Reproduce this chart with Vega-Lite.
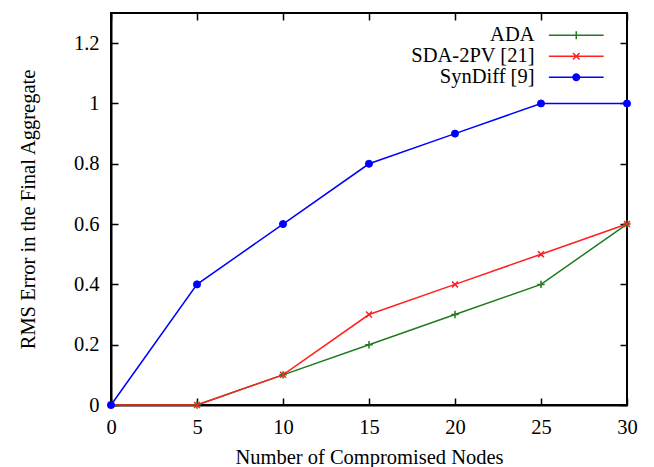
{
  "$schema": "https://vega.github.io/schema/vega-lite/v6.json",
  "width": 516,
  "height": 392,
  "autosize": {"type": "none"},
  "padding": {"left": 111, "top": 13, "right": 27, "bottom": 62},
  "background": "white",
  "config": {
    "font": "Liberation Serif",
    "view": {"stroke": "black", "strokeWidth": 2},
    "axis": {
      "grid": false,
      "domain": true,
      "domainColor": "black",
      "domainWidth": 2,
      "tickColor": "black",
      "tickWidth": 1.5,
      "tickSize": -7,
      "labelPadding": 19,
      "labelFlush": false,
      "labelFont": "Liberation Serif",
      "labelFontSize": 20.5,
      "labelColor": "black",
      "titleFont": "Liberation Serif",
      "titleFontSize": 20.5,
      "titleFontWeight": "normal",
      "titleColor": "black",
      "zindex": 1
    },
    "legend": {
      "labelFont": "Liberation Serif",
      "labelFontSize": 20.5,
      "labelColor": "black"
    }
  },
  "data": {
    "values": [
      {"n": 0, "err": 0, "series": "ADA"},
      {"n": 5, "err": 0, "series": "ADA"},
      {"n": 10, "err": 0.1, "series": "ADA"},
      {"n": 15, "err": 0.2, "series": "ADA"},
      {"n": 20, "err": 0.3, "series": "ADA"},
      {"n": 25, "err": 0.4, "series": "ADA"},
      {"n": 30, "err": 0.6, "series": "ADA"},
      {"n": 0, "err": 0, "series": "SDA-2PV [21]"},
      {"n": 5, "err": 0, "series": "SDA-2PV [21]"},
      {"n": 10, "err": 0.1, "series": "SDA-2PV [21]"},
      {"n": 15, "err": 0.3, "series": "SDA-2PV [21]"},
      {"n": 20, "err": 0.4, "series": "SDA-2PV [21]"},
      {"n": 25, "err": 0.5, "series": "SDA-2PV [21]"},
      {"n": 30, "err": 0.6, "series": "SDA-2PV [21]"},
      {"n": 0, "err": 0, "series": "SynDiff [9]"},
      {"n": 5, "err": 0.4, "series": "SynDiff [9]"},
      {"n": 10, "err": 0.6, "series": "SynDiff [9]"},
      {"n": 15, "err": 0.8, "series": "SynDiff [9]"},
      {"n": 20, "err": 0.9, "series": "SynDiff [9]"},
      {"n": 25, "err": 1.0, "series": "SynDiff [9]"},
      {"n": 30, "err": 1.0, "series": "SynDiff [9]"}
    ]
  },
  "layer": [
    {
      "mark": {"type": "line", "strokeWidth": 1.5},
      "encoding": {
        "x": {
          "field": "n", "type": "quantitative",
          "scale": {"domain": [0, 30], "nice": false, "zero": false},
          "axis": {"values": [0, 5, 10, 15, 20, 25, 30], "title": "Number of Compromised Nodes", "titlePadding": 10}
        },
        "y": {
          "field": "err", "type": "quantitative",
          "scale": {"domain": [0, 1.3], "nice": false},
          "axis": {"values": [0, 0.2, 0.4, 0.6, 0.8, 1, 1.2], "format": ".1~f", "title": "RMS Error in the Final Aggregate", "titlePadding": 35}
        },
        "stroke": {
          "field": "series", "type": "nominal",
          "scale": {"domain": ["ADA", "SDA-2PV [21]", "SynDiff [9]"], "range": ["#1e7b1e", "#ff2020", "#0000ff"]},
          "legend": {
            "title": null,
            "orient": "none",
            "legendX": 455,
            "legendY": 12,
            "padding": 0,
            "symbolSize": 30,
            "symbolStrokeWidth": 1.5,
            "labelAlign": "right",
            "labelOffset": -52,
            "rowPadding": -2,
            "encode": {
              "symbols": {
                "update": {
                  "shape": {"signal": "datum.value === 'ADA' ? 'M-10,0H10M0,-1.5V1.5M-1.5,0H1.5' : (datum.value === 'SDA-2PV [21]' ? 'M-10,0H10M-1.2,-1.2L1.2,1.2M-1.2,1.2L1.2,-1.2' : 'M-10,0H10M-1.2,0A1.2,1.2 0 1,0 1.2,0A1.2,1.2 0 1,0 -1.2,0')"},
                  "fill": {"signal": "datum.value === 'SynDiff [9]' ? '#0000ff' : 'transparent'"},
                  "size": {"value": 30},
                  "strokeWidth": {"value": 1.5}
                }
              }
            }
          }
        }
      }
    },
    {
      "mark": {"type": "point", "opacity": 0},
      "encoding": {
        "x": {"field": "n", "type": "quantitative", "axis": {"orient": "top", "values": [0, 5, 10, 15, 20, 25, 30], "labels": false, "title": null, "domain": false}},
        "y": {"field": "err", "type": "quantitative", "axis": {"orient": "right", "values": [0, 0.2, 0.4, 0.6, 0.8, 1, 1.2], "labels": false, "title": null, "domain": false}}
      }
    },
    {
      "transform": [{"filter": "datum.series === 'ADA'"}],
      "mark": {"type": "point", "shape": "M-1,0H1M0,-1V1", "size": 55, "stroke": "#1e7b1e", "strokeWidth": 1.5, "filled": false, "opacity": 1},
      "encoding": {
        "x": {"field": "n", "type": "quantitative", "axis": null},
        "y": {"field": "err", "type": "quantitative", "axis": null}
      }
    },
    {
      "transform": [{"filter": "datum.series === 'SDA-2PV [21]'"}],
      "mark": {"type": "point", "shape": "M-0.8,-0.8L0.8,0.8M-0.8,0.8L0.8,-0.8", "size": 55, "stroke": "#ff2020", "strokeWidth": 1.5, "filled": false, "opacity": 1},
      "encoding": {
        "x": {"field": "n", "type": "quantitative", "axis": null},
        "y": {"field": "err", "type": "quantitative", "axis": null}
      }
    },
    {
      "transform": [{"filter": "datum.series === 'SynDiff [9]'"}],
      "mark": {"type": "point", "shape": "circle", "size": 50, "fill": "#0000ff", "stroke": "#0000ff", "strokeWidth": 1, "filled": true, "opacity": 1},
      "encoding": {
        "x": {"field": "n", "type": "quantitative", "axis": null},
        "y": {"field": "err", "type": "quantitative", "axis": null}
      }
    }
  ],
  "resolve": {"axis": {"x": "independent", "y": "independent"}}
}
